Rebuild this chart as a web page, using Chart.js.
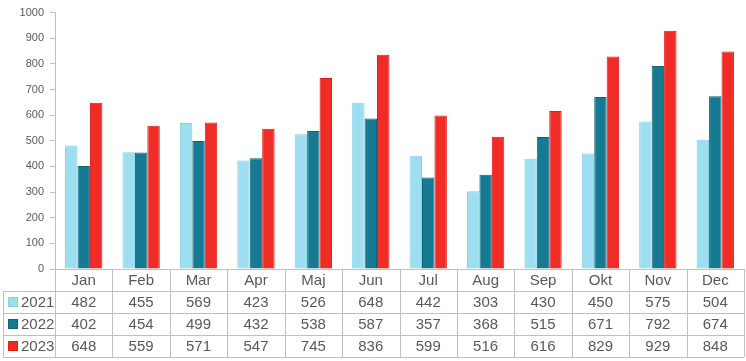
<!DOCTYPE html>
<html>
<head>
<meta charset="utf-8">
<script src="https://cdn.jsdelivr.net/npm/chart.js@4"></script>
<style>
  html, body { margin: 0; padding: 0; background: #fff; }
  #wrap { width: 746px; height: 361px; }
</style>
</head>
<body>
<div id="wrap"><canvas id="c"></canvas></div>
<script>
const months = ["Jan", "Feb", "Mar", "Apr", "Maj", "Jun", "Jul", "Aug", "Sep", "Okt", "Nov", "Dec"];
const years = ["2021", "2022", "2023"];
const v2021 = [482, 455, 569, 423, 526, 648, 442, 303, 430, 450, 575, 504];
const v2022 = [402, 454, 499, 432, 538, 587, 357, 368, 515, 671, 792, 674];
const v2023 = [648, 559, 571, 547, 745, 836, 599, 516, 616, 829, 929, 848];
const yTicks = [0, 100, 200, 300, 400, 500, 600, 700, 800, 900, 1000];

const fills = ["#9ddff1", "#177a93", "#ef2d26"];
const edges = ["#86cfe4", "#0f6479", "#e01a14"];
const seriesValues = [v2021, v2022, v2023];

const textGray = "#595959";
const lineGray = "#bfbfbf";

// draws the data table under the plot, using the x scale for columns
const dataTable = {
  id: "dataTable",
  afterDraw(chart) {
    const ctx = chart.ctx;
    const x = chart.scales.x;
    const area = chart.chartArea;
    const top = area.bottom;
    const rowH = 22;
    const step = x.width / months.length;
    const left = x.left;
    const right = x.right;
    const tableLeft = 3;
    ctx.save();
    ctx.strokeStyle = lineGray;
    ctx.lineWidth = 1;

    // horizontal lines
    ctx.beginPath();
    ctx.moveTo(left, top + 0.5);
    ctx.lineTo(right, top + 0.5);
    for (let r = 1; r <= 4; r++) {
      const y = Math.round(top + r * rowH) + 0.5;
      ctx.moveTo(tableLeft, y);
      ctx.lineTo(right, y);
    }
    // vertical lines
    for (let i = 0; i <= months.length; i++) {
      const xx = Math.round(left + i * step) + 0.5;
      ctx.moveTo(xx, top);
      ctx.lineTo(xx, top + 4 * rowH);
    }
    ctx.moveTo(tableLeft + 0.5, top + rowH);
    ctx.lineTo(tableLeft + 0.5, top + 4 * rowH);
    ctx.stroke();

    ctx.fillStyle = textGray;
    ctx.font = "15px 'Liberation Sans', Arial, sans-serif";
    ctx.textAlign = "center";
    ctx.textBaseline = "middle";
    months.forEach((m, i) => {
      const cx = x.getPixelForTick(i);
      ctx.fillText(m, cx, top + rowH / 2 + 1);
      seriesValues.forEach((vals, s) => {
        ctx.fillText(String(vals[i]), cx, top + (s + 1.5) * rowH + 1);
      });
    });

    // row headers with legend keys
    years.forEach((yr, s) => {
      const cy = top + (s + 1.5) * rowH;
      ctx.fillStyle = fills[s];
      ctx.fillRect(8, cy - 5, 10, 10);
      ctx.strokeStyle = edges[s];
      ctx.strokeRect(8.5, cy - 4.5, 9, 9);
      ctx.fillStyle = textGray;
      ctx.textAlign = "left";
      ctx.fillText(yr, 21, cy + 1);
    });
    ctx.restore();
  }
};

new Chart(document.getElementById("c"), {
  type: "bar",
  data: {
    labels: months,
    datasets: years.map((yr, s) => ({
      label: yr,
      data: seriesValues[s],
      backgroundColor: fills[s],
      borderColor: edges[s],
      borderWidth: 1,
      categoryPercentage: 0.65,
      barPercentage: 1.0
    }))
  },
  options: {
    responsive: true,
    maintainAspectRatio: false,
    animation: false,
    layout: { padding: { top: 9, right: 2, bottom: 92, left: 0 } },
    plugins: {
      legend: { display: false },
      tooltip: { enabled: false }
    },
    scales: {
      x: {
        display: false
      },
      y: {
        min: 0,
        max: 1000,
        afterFit(scale) { scale.width = 55; },
        afterBuildTicks(scale) { scale.ticks = yTicks.map(v => ({ value: v })); },
        border: { display: true, color: lineGray },
        grid: {
          drawOnChartArea: false,
          drawTicks: true,
          tickLength: 5,
          color: lineGray
        },
        ticks: {
          color: textGray,
          padding: 6,
          callback: (v) => String(v),
          font: { size: 11, family: "'Liberation Sans', Arial, sans-serif" }
        }
      }
    }
  },
  plugins: [dataTable]
});
</script>
</body>
</html>
